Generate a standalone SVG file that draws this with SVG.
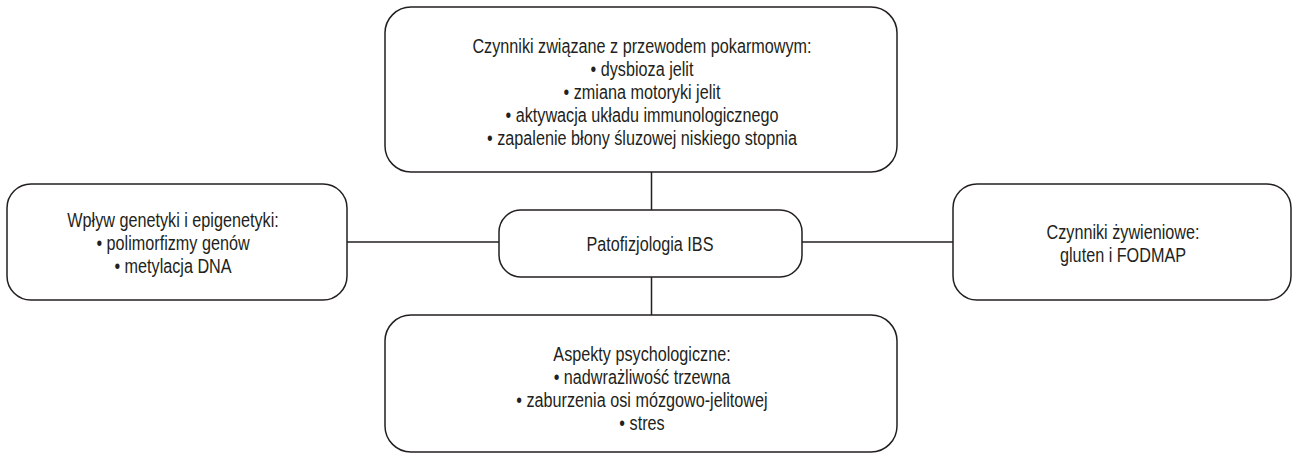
<svg xmlns="http://www.w3.org/2000/svg" width="1293" height="454" viewBox="0 0 1293 454">
<style>
.box{fill:#fff;stroke:#231f20;stroke-width:1.5}
.ln{stroke:#231f20;stroke-width:1.5;fill:none}
text{font-family:"Liberation Sans",Arial,sans-serif;font-size:20px;fill:#231f20;text-anchor:middle}
</style>
<rect width="1293" height="454" fill="#fff"/>
<g id="connectors">
<line class="ln" x1="651.5" y1="172" x2="651.5" y2="210"/>
<line class="ln" x1="651.5" y1="277" x2="651.5" y2="315"/>
<line class="ln" x1="347" y1="242" x2="499" y2="242"/>
<line class="ln" x1="802" y1="242" x2="953" y2="242"/>
</g>
<g id="node-top">
<rect class="box" x="385" y="7" width="512" height="165" rx="26"/>
<g transform="translate(642 0) scale(0.81 1)">
<text x="0" y="53">Czynniki związane z przewodem pokarmowym:</text>
<text x="0" y="76">• dysbioza jelit</text>
<text x="0" y="99">• zmiana motoryki jelit</text>
<text x="0" y="122">• aktywacja układu immunologicznego</text>
<text x="0" y="145">• zapalenie błony śluzowej niskiego stopnia</text>
</g>
</g>
<g id="node-left">
<rect class="box" x="7" y="184" width="340" height="116" rx="24"/>
<g transform="translate(173 0) scale(0.81 1)">
<text x="0" y="227">Wpływ genetyki i epigenetyki:</text>
<text x="0" y="250">• polimorfizmy genów</text>
<text x="0" y="273">• metylacja DNA</text>
</g>
</g>
<g id="node-center">
<rect class="box" x="499" y="210" width="303" height="67" rx="22"/>
<g transform="translate(650 0) scale(0.81 1)">
<text x="0" y="251">Patofizjologia IBS</text>
</g>
</g>
<g id="node-right">
<rect class="box" x="953" y="184" width="338" height="116" rx="24"/>
<g transform="translate(1123 0) scale(0.81 1)">
<text x="0" y="239">Czynniki żywieniowe:</text>
<text x="0" y="262">gluten i FODMAP</text>
</g>
</g>
<g id="node-bottom">
<rect class="box" x="385" y="315" width="512" height="137" rx="26"/>
<g transform="translate(642 0) scale(0.81 1)">
<text x="0" y="361">Aspekty psychologiczne:</text>
<text x="0" y="384">• nadwrażliwość trzewna</text>
<text x="0" y="407">• zaburzenia osi mózgowo-jelitowej</text>
<text x="0" y="430">• stres</text>
</g>
</g>
</svg>
